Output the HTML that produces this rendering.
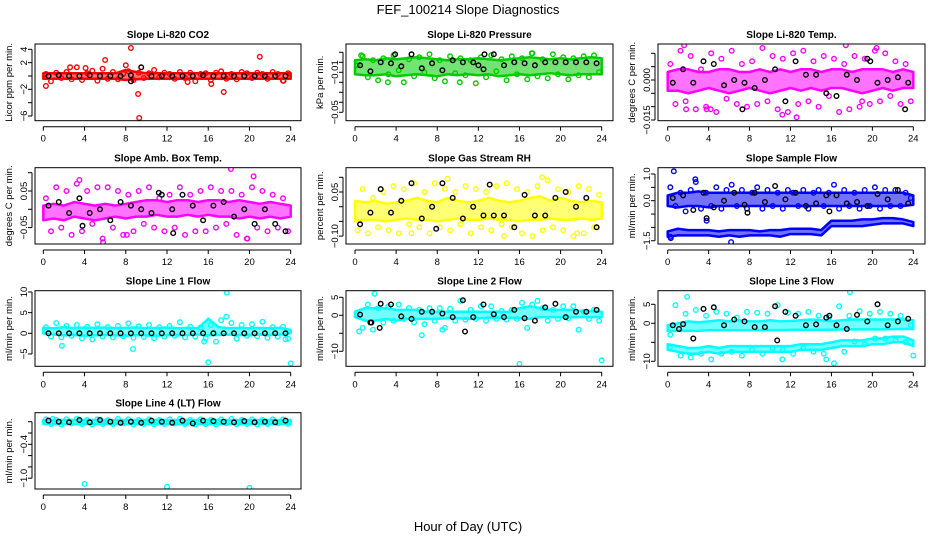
<!DOCTYPE html>
<html><head><meta charset="utf-8"><style>
html,body{margin:0;padding:0;background:#fff;}
svg{display:block;font-family:"Liberation Sans",sans-serif;}
</style></head><body>
<svg id="chart" width="936" height="540" viewBox="0 0 936 540" xmlns="http://www.w3.org/2000/svg">
<rect width="936" height="540" fill="#fff"/>
<text x="468" y="14" text-anchor="middle" font-size="13">FEF_100214  Slope Diagnostics</text>
<text x="468" y="531" text-anchor="middle" font-size="13">Hour of Day (UTC)</text>
</svg>
<script>
// ---------- data ----------
const p1Lo=[-0.4,-0.4,-0.4,-0.4,-0.4,-0.4,-0.4,-0.4,-0.6,-0.5,-0.4,-0.4,-0.4,-0.4,-0.4,-0.4,-0.4,-0.4,-0.4,-0.4,-0.4,-0.4,-0.4,-0.4,-0.4];
const p1Hi=[0.4,0.4,0.4,0.4,0.4,0.4,0.4,0.4,0.9,0.6,0.4,0.4,0.4,0.4,0.4,0.4,0.4,0.4,0.4,0.4,0.4,0.4,0.4,0.4,0.4];
const p1Scat=[0.3,-0.8,0.5,-0.3,0.6,-0.5,1.3,-0.6,0.4,0.8,-0.7,1.1,-0.4,0.6,-0.5,0.3,0.7,-0.6,0.5,-0.3,0.4,0.9,-0.2,0.5,0.3,-0.4,0.6,-0.3,0.5,-0.8,0.3,0.4,-0.6,0.5,0.7,-0.4,0.3,-0.5,0.6,0.4,-0.3,0.5,0.3,-0.4,0.6,0.3,-0.7,0.4];
const p1OutT=[0.25,2.6,4.1,6,8,8.5,9.2,9.3,17.5,21,16.3,14,23.3];
const p1OutV=[-1.5,1.3,1.2,2.4,1.6,4.2,-2.7,-6.3,-2.4,2.9,-1.2,-0.9,-0.7];
const p1Blk=[0,0.1,0,0,0.1,0,0,0,0.1,1.3,0,0,0,0,0,0.1,0,0,0,0,0,0,0,0];
const p1BlkOutT=[8.5];
const p1BlkOutV=[-0.8];

const p2Lo=[-0.012,-0.013,-0.013,-0.012,-0.014,-0.013,-0.012,-0.013,-0.014,-0.012,-0.013,-0.012,-0.013,-0.012,-0.014,-0.013,-0.012,-0.013,-0.012,-0.011,-0.012,-0.013,-0.012,-0.012,-0.012];
const p2Hi=[0.002,0.003,0.002,0.004,0.003,0.004,0.005,0.004,0.003,0.002,0.003,0.003,0.004,0.003,0.002,0.003,0.004,0.005,0.004,0.003,0.004,0.003,0.004,0.005,0.004];
const p2Scat=[-0.003,0.006,-0.015,0.002,-0.018,0.004,-0.012,0.007,-0.008,-0.02,0.003,-0.014,0.005,-0.01,0.008,-0.016,0.002,-0.019,0.006,-0.011,0.004,-0.013,0.002,-0.021,0.005,-0.015,0.007,-0.009,0.003,-0.018,0.006,-0.012,0.004,-0.017,0.009,-0.014,0.003,-0.016,0.008,-0.012,0.005,-0.017,0.004,-0.013,0.006,-0.015,0.007,-0.01];
const p2OutT=[0.6,8,16,24,17.2,10.2,3.2];
const p2OutV=[0.007,-0.074,-0.072,-0.073,0.009,-0.02,-0.02];
const p2Blk=[-0.003,-0.009,0.0,-0.001,-0.004,0.008,-0.006,-0.001,-0.008,0.002,0.0,0.0,-0.007,0.008,-0.003,0.0,-0.001,-0.003,0.0,0.0,0.0,0.0,0.0,-0.001];
const p2BlkOutT=[3.9,12.0,12.6];
const p2BlkOutV=[0.008,-0.003,0.008];

const p3Lo=[-0.004,-0.004,-0.005,-0.004,-0.003,-0.004,-0.005,-0.004,-0.003,-0.004,-0.005,-0.004,-0.003,-0.004,-0.003,-0.004,-0.003,-0.003,-0.004,-0.005,-0.004,-0.003,-0.004,-0.003,-0.003];
const p3Hi=[0.003,0.004,0.004,0.003,0.003,0.004,0.004,0.003,0.003,0.004,0.003,0.004,0.003,0.004,0.004,0.003,0.004,0.004,0.003,0.004,0.004,0.004,0.003,0.004,0.003];
const p3Scat=[0.006,-0.009,0.011,-0.008,0.009,-0.011,0.004,-0.01,0.01,-0.012,0.008,-0.007,0.011,-0.009,0.006,-0.01,0.007,-0.009,0.012,-0.008,0.009,-0.011,0.008,-0.012,0.01,-0.009,0.011,-0.008,0.007,-0.01,0.009,-0.006,0.008,-0.012,0.006,-0.011,0.009,-0.01,0.008,-0.009,0.011,-0.008,0.01,-0.006,0.007,-0.009,0.006,-0.008];
const p3OutT=[1.6,11.2,11.4,12.6,17.4,19,20.4,1.8,3.8,4.2];
const p3OutV=[0.013,-0.013,-0.017,-0.014,0.013,-0.008,0.012,-0.011,-0.011,-0.011];
const p3Blk=[-0.001,0.004,-0.001,0.007,0.006,-0.002,0.0,-0.001,-0.003,0.0,0.004,-0.008,0.007,0.002,0.002,-0.005,-0.006,0.002,0.0,0.008,-0.001,0.0,0.001,-0.001];
const p3BlkOutT=[7.3,23.2,19.8];
const p3BlkOutV=[-0.011,-0.011,0.007];

const p4Lo=[-0.03,-0.025,-0.03,-0.02,-0.025,-0.03,-0.025,-0.02,-0.025,-0.02,-0.02,-0.015,-0.02,-0.02,-0.015,-0.02,-0.015,-0.02,-0.02,-0.025,-0.02,-0.025,-0.02,-0.025,-0.02];
const p4Hi=[0.01,0.015,0.01,0.02,0.015,0.01,0.015,0.01,0.015,0.02,0.025,0.025,0.02,0.025,0.025,0.02,0.025,0.025,0.02,0.025,0.02,0.015,0.02,0.015,0.01];
const p4Scat=[0.03,-0.06,0.06,-0.05,0.05,-0.07,0.07,-0.06,0.05,-0.04,0.06,-0.08,0.06,-0.05,0.05,-0.07,0.04,-0.06,0.05,-0.04,0.06,-0.05,0.03,-0.06,0.04,-0.05,0.06,-0.07,0.04,-0.06,0.05,-0.06,0.06,-0.05,0.05,-0.04,0.05,-0.07,0.04,-0.08,0.06,-0.05,0.05,-0.06,0.04,-0.05,0.03,-0.06];
const p4OutT=[18.2,5.8,20.4,3.5,19.8,8.1];
const p4OutV=[0.11,-0.09,0.09,0.08,-0.08,-0.07];
const p4Blk=[0.01,0.02,-0.01,0.03,-0.01,0.0,-0.03,0.02,0.01,0.0,-0.01,0.04,0.0,0.04,0.01,-0.03,0.01,0.02,-0.02,0.0,-0.04,0.0,-0.04,-0.06];
const p4BlkOutT=[12.6,3.8,11.2];
const p4BlkOutV=[-0.065,-0.045,0.045];

const p5Lo=[-0.05,-0.045,-0.045,-0.05,-0.045,-0.04,-0.045,-0.045,-0.05,-0.045,-0.04,-0.045,-0.045,-0.04,-0.045,-0.045,-0.05,-0.045,-0.045,-0.04,-0.045,-0.045,-0.04,-0.045,-0.04];
const p5Hi=[0.02,0.015,0.02,0.01,0.015,0.02,0.03,0.02,0.015,0.03,0.02,0.015,0.02,0.03,0.02,0.015,0.02,0.03,0.035,0.02,0.03,0.02,0.015,0.02,0.015];
const p5Scat=[-0.08,0.06,-0.09,0.03,-0.07,0.05,-0.08,0.07,-0.09,0.06,-0.06,0.08,-0.07,0.05,-0.09,0.08,-0.07,0.06,-0.08,0.05,-0.06,0.07,-0.09,0.06,-0.07,0.05,-0.08,0.07,-0.06,0.08,-0.07,0.06,-0.09,0.05,-0.1,0.07,-0.08,0.09,-0.07,0.06,-0.08,0.05,-0.1,0.07,-0.09,0.06,-0.07,0.04];
const p5OutT=[9,18.2,14.5,5.5,21.6];
const p5OutV=[0.095,0.1,-0.1,-0.09,-0.09];
const p5Blk=[-0.06,-0.02,0.06,-0.02,0.02,0.08,-0.04,0.0,0.08,0.03,-0.04,0.0,-0.03,-0.03,-0.03,-0.07,0.04,-0.03,-0.03,0.03,0.05,0.0,0.03,-0.07];
const p5BlkOutT=[14.7,7.9,13.1];
const p5BlkOutV=[-0.14,-0.075,0.075];

const p6Lo=[-0.2,-0.25,-0.2,-0.2,-0.25,-0.2,-0.2,-0.2,-0.2,-0.2,-0.2,-0.2,-0.2,-0.2,-0.2,-0.2,-0.2,-0.2,-0.2,-0.2,-0.2,-0.2,-0.2,-0.2,-0.15];
const p6Hi=[0.2,0.3,0.3,0.35,0.3,0.3,0.3,0.3,0.3,0.3,0.3,0.3,0.3,0.3,0.3,0.3,0.3,0.3,0.3,0.3,0.3,0.3,0.3,0.3,0.2];
const p6LoB=[-1.35,-1.3,-1.3,-1.3,-1.3,-1.35,-1.3,-1.35,-1.3,-1.3,-1.3,-1.35,-1.25,-1.25,-1.25,-1.3,-0.95,-0.95,-0.95,-0.95,-0.9,-0.85,-0.85,-0.85,-0.95];
const p6HiB=[-1.15,-1.05,-1.1,-1.1,-1.1,-1.15,-1.1,-1.1,-1.1,-1.15,-1.1,-1.1,-1.05,-1.05,-1.05,-1.1,-0.75,-0.75,-0.75,-0.7,-0.7,-0.65,-0.65,-0.7,-0.8];
const p6Scat=[0.5,-0.2,0.3,-0.4,0.4,0.7,-0.3,0.3,-0.2,0.5,-0.3,0.4,0.6,-0.2,0.4,-0.3,0.3,0.5,-0.3,0.4,-0.2,0.3,-0.3,0.4,0.3,-0.2,0.4,-0.3,0.3,0.4,-0.2,0.3,0.6,-0.3,0.4,-0.2,0.3,-0.3,0.4,-0.2,0.5,-0.3,0.4,-0.2,0.4,-0.2,0.3,0.1];
const p6OutT=[0.6,0.25,0.3,6.2,2.7,3.8];
const p6OutV=[1.1,-1.35,-1.4,-1.55,0.8,-0.75];
const p6Blk=[0.1,0.2,-0.35,0.3,-0.25,0.0,0.3,-0.15,0.3,-0.05,0.55,0.05,0.3,-0.2,-0.1,0.2,0.2,-0.1,-0.05,-0.2,0.25,0.05,0.4,-0.1];
const p6BlkOutT=[3.8,7.8,15.8];
const p6BlkOutV=[-0.65,-0.45,-0.4];

const p7Lo=[0.0,-0.3,-0.5,-0.4,-0.6,-0.5,-0.4,-0.5,-0.6,-0.4,-0.5,-0.6,-0.4,-0.5,-0.4,-0.3,-0.5,-0.4,-0.3,-0.4,-0.5,-0.3,-0.4,-0.3,0.0];
const p7Hi=[1.3,1.2,1.5,1.2,1.4,1.3,1.4,1.2,1.3,1.4,1.2,1.3,1.4,1.2,1.3,1.2,3.5,1.5,1.2,1.3,1.2,1.3,1.2,1.3,0.8];
const p7Scat=[1.5,-0.8,2.5,-1.0,1.8,-0.6,2.0,-1.2,1.6,-1.5,2.2,-0.8,1.5,-1.0,1.8,-0.7,2.4,-1.1,1.7,-0.9,2.0,-1.2,1.5,-0.8,1.8,-0.6,2.7,-1.0,1.6,-0.8,1.4,-1.2,2.0,-2.0,3.2,4.0,2.5,-1.3,2.0,-0.6,2.2,-0.7,2.8,-1.1,1.5,-0.8,1.6,-1.3];
const p7OutT=[1.8,8.7,15.6,16,17.8,24,23.5];
const p7OutV=[-3.0,-3.8,-2.0,-7.0,9.8,-7.3,-1.4];
const p7Blk=[0,0,0,0,0,0,0,0,0,0,0,0,0,0,0,0,0,0,0,0,0,0,0,0];
const p7BlkOutT=[];
const p7BlkOutV=[];

const p8Lo=[-0.5,-1.5,-1.5,-1.0,-1.5,-1.0,-1.0,-1.0,-1.0,-0.8,-0.8,-1.0,-0.8,-0.7,-0.7,-0.7,-0.8,-1.0,-0.5,-0.5,-0.5,-0.5,-0.5,-0.5,-0.5];
const p8Hi=[1.0,2.0,2.0,2.0,1.5,1.5,1.5,1.0,1.0,1.0,1.0,1.0,1.0,1.0,1.0,1.0,2.0,2.5,2.0,1.5,1.5,1.5,1.2,1.2,1.0];
const p8Scat=[0.5,-3.5,3.0,-4.0,2.0,-2.0,2.5,-1.5,3.0,-1.0,2.0,-2.0,1.5,-2.5,2.0,-1.5,2.0,-3.5,1.8,-1.5,4.0,-1.2,1.5,-1.0,2.5,-1.5,2.5,-1.0,1.2,-1.2,1.5,-1.0,3.5,-3.5,3.0,4.0,2.0,-1.5,1.5,-1.0,2.5,-0.8,2.5,-4.0,1.0,-1.0,1.5,-1.5];
const p8OutT=[1.9,0.4,16,24,6.5,8.5];
const p8OutV=[6,-4.5,-13.5,-12.5,-5.5,-4.0];
const p8Blk=[0.2,-2,3.2,3,-0.3,-1,1,1,0.5,-0.5,4.2,-0.5,3,0.3,-0.5,1.5,-0.8,-1.5,2.2,3.2,-0.5,1,1,1.5];
const p8BlkOutT=[10.7,1.6,2.4];
const p8BlkOutV=[-4.5,-2,-3.5];

const p9Lo=[-2,-2,-2,-2,-1.8,-1.8,-1.8,-1.8,-1.8,-1.8,-1.8,-1.8,-1.7,-1.7,-1.7,-1.7,-1.7,-1.6,-1.6,-1.6,-1.6,-1.6,-1.5,-1.5,-1.5];
const p9Hi=[-0.5,0,0.5,0.3,0.5,0.8,0.5,0.8,0.5,0.5,0.8,0.5,0.6,0.8,1.0,0.8,0.5,0.8,1.0,1.0,1.0,1.0,1.0,1.0,0.8];
const p9LoB=[-7,-7.5,-8,-8,-7.5,-8,-7.5,-7.5,-7.5,-7.5,-7.5,-7.5,-7.5,-7.0,-7.0,-7.0,-6.5,-6.0,-6.0,-6.0,-5.5,-5.5,-5.0,-5.0,-6.0];
const p9HiB=[-5.5,-6,-6.5,-6.5,-6,-6.5,-6,-6,-6,-6,-6,-6,-6,-5.5,-5.5,-5.5,-5,-4.5,-4.5,-4.5,-4.0,-4.0,-3.5,-3.5,-4.5];
const p9Scat=[-3,4.8,-8.5,2.5,-9,3.5,-8,2,-9.5,3,-8,2.5,-7.5,1.5,-8.5,3,-7,2.8,-8,2.5,-6.5,4.8,-7,2.8,-8,2.5,-6.5,3,-7.5,2,-8,1.5,-10.5,4.5,-7.5,2,-4.8,3.2,-5.5,2.5,-4,3,-4,2.5,-4.5,2.0,-5,-0.5];
const p9OutT=[1.9,17.8,0.2,24,11.2,15.5];
const p9OutV=[7,8.2,-6.5,-8.5,-9.5,-9.5];
const p9Blk=[-0.5,-0.2,-4,3.8,4.2,-0.5,1,0.5,-1,-1,4.5,3,2,-0.5,-0.3,1.5,-0.5,-1.5,2.2,0.5,5,-0.5,0.5,1.2];
const p9BlkOutT=[10.7,15.8,1.1];
const p9BlkOutV=[-4.5,2,-1.5];

const p10Lo=[-0.04,-0.04,-0.04,-0.04,-0.04,-0.04,-0.04,-0.04,-0.04,-0.04,-0.04,-0.04,-0.04,-0.04,-0.04,-0.04,-0.04,-0.04,-0.04,-0.04,-0.04,-0.04,-0.04,-0.04,-0.04];
const p10Hi=[0.03,0.03,0.03,0.03,0.03,0.03,0.03,0.03,0.03,0.03,0.03,0.03,0.03,0.03,0.03,0.03,0.03,0.03,0.03,0.03,0.03,0.03,0.03,0.03,0.03];
const p10Scat=[0.04,-0.04,0.03,-0.05,0.04,-0.03,0.05,-0.04,0.03,-0.05,0.04,-0.04,0.03,-0.04,0.05,-0.03,0.04,-0.05,0.03,-0.04,0.04,-0.05,0.03,-0.04,0.04,-0.03,0.05,-0.04,0.03,-0.05,0.04,-0.04,0.03,-0.05,0.04,-0.03,0.05,-0.04,0.03,-0.04,0.04,-0.05,0.03,-0.04,0.04,-0.03,0.04,-0.04];
const p10OutT=[4,12,20,0.9];
const p10OutV=[-1.1,-1.15,-1.17,0.05];
const p10Blk=[0.02,0.0,-0.01,0.03,-0.01,0.03,0.0,-0.02,0.0,-0.02,0.02,0.0,-0.02,0.02,-0.03,0.02,0.01,0.0,-0.01,0.01,-0.01,0.0,-0.01,0.02];
const p10BlkOutT=[];
const p10BlkOutV=[];

const xTicks=[0,4,8,12,16,20,24];

// ---------- layout (not data) ----------
const cols=[{l:35,r:301,x0:43.3,x24:290.7},{l:346,r:613,x0:355,x24:601.7},{l:658,r:925,x0:667.7,x24:913.3}];
const rows=[{t:44,b:120.7},{t:167.7,b:244},{t:290.7,b:366.3},{t:412.7,b:489}];

const panels=[
 {id:'co2',title:'Slope Li-820 CO2',ylab:'Licor ppm per min.',c:0,r:0,col:'#ff0000',p0:76,k:6.67,
  ticks:[4,2,0,-2,-4,-6],labs:{'4':'4','2':'2','-2':'−2','-6':'−6'},
  bands:[[p1Lo,p1Hi]],scat:p1Scat,oT:p1OutT,oV:p1OutV,blk:p1Blk,bT:p1BlkOutT,bV:p1BlkOutV},
 {id:'pressure',title:'Slope Li-820 Pressure',ylab:'kPa per min.',c:1,r:0,col:'#00cd00',p0:62.3,k:1000,
  ticks:[0.01,0,-0.01,-0.02,-0.03,-0.04,-0.05],labs:{'-0.01':'−0.01','-0.05':'−0.05'},
  bands:[[p2Lo,p2Hi]],scat:p2Scat,oT:p2OutT,oV:p2OutV,blk:p2Blk,bT:p2BlkOutT,bV:p2BlkOutV},
 {id:'temp',title:'Slope Li-820 Temp.',ylab:'degrees C per min.',c:2,r:0,col:'#ff00ff',p0:80,k:2667,
  ticks:[0.01,0.005,0,-0.005,-0.01,-0.015],labs:{'0':'0.000','-0.015':'−0.015'},
  bands:[[p3Lo,p3Hi]],scat:p3Scat,oT:p3OutT,oV:p3OutV,blk:p3Blk,bT:p3BlkOutT,bV:p3BlkOutV},
 {id:'amb-box-temp',title:'Slope Amb. Box Temp.',ylab:'degrees C per min.',c:0,r:1,col:'#ff00ff',p0:209.3,k:366,
  ticks:[0.1,0.05,0,-0.05],labs:{'0.05':'0.05','-0.05':'−0.05'},
  bands:[[p4Lo,p4Hi]],scat:p4Scat,oT:p4OutT,oV:p4OutV,blk:p4Blk,bT:p4BlkOutT,bV:p4BlkOutV},
 {id:'gas-stream-rh',title:'Slope Gas Stream RH',ylab:'percent per min.',c:1,r:1,col:'#ffff00',p0:206.7,k:294,
  ticks:[0.1,0.05,0,-0.05,-0.1],labs:{'0.05':'0.05','-0.1':'−0.10'},
  bands:[[p5Lo,p5Hi]],scat:p5Scat,oT:p5OutT,oV:p5OutV,blk:p5Blk,bT:p5BlkOutT,bV:p5BlkOutV},
 {id:'sample-flow',title:'Slope Sample Flow',ylab:'ml/min per min.',c:2,r:1,col:'#0000ff',p0:200.7,k:26.7,
  ticks:[1,0.5,0,-0.5,-1,-1.5],labs:{'1':'1.0','0':'0.0','-1.5':'−1.5'},
  bands:[[p6Lo,p6Hi],[p6LoB,p6HiB]],scat:p6Scat,oT:p6OutT,oV:p6OutV,blk:p6Blk,bT:p6BlkOutT,bV:p6BlkOutV},
 {id:'line1-flow',title:'Slope Line 1 Flow',ylab:'ml/min per min.',c:0,r:2,col:'#00ffff',p0:333.3,k:4.13,
  ticks:[10,5,0,-5],labs:{'10':'10','5':'5','0':'0','-5':'−5'},
  bands:[[p7Lo,p7Hi]],scat:p7Scat,oT:p7OutT,oV:p7OutV,blk:p7Blk,bT:p7BlkOutT,bV:p7BlkOutV},
 {id:'line2-flow',title:'Slope Line 2 Flow',ylab:'ml/min per min.',c:1,r:2,col:'#00ffff',p0:315.3,k:3.6,
  ticks:[5,0,-5,-10],labs:{'5':'5','0':'0','-10':'−10'},
  bands:[[p8Lo,p8Hi]],scat:p8Scat,oT:p8OutT,oV:p8OutV,blk:p8Blk,bT:p8BlkOutT,bV:p8BlkOutV},
 {id:'line3-flow',title:'Slope Line 3 Flow',ylab:'ml/min per min.',c:2,r:2,col:'#00ffff',p0:323.3,k:3.8,
  ticks:[5,0,-5,-10],labs:{'5':'5','0':'0','-10':'−10'},
  bands:[[p9Lo,p9Hi],[p9LoB,p9HiB]],scat:p9Scat,oT:p9OutT,oV:p9OutV,blk:p9Blk,bT:p9BlkOutT,bV:p9BlkOutV},
 {id:'line4-flow',title:'Slope Line 4 (LT) Flow',ylab:'ml/min per min.',c:0,r:3,col:'#00ffff',p0:421.7,k:56.5,
  ticks:[0,-0.2,-0.4,-0.6,-0.8,-1.0],labs:{'-0.4':'−0.4','-1':'−1.0'},
  bands:[[p10Lo,p10Hi]],scat:p10Scat,oT:p10OutT,oV:p10OutV,blk:p10Blk,bT:p10BlkOutT,bV:p10BlkOutV}
];

const svg=document.getElementById('chart');
const NS='http://www.w3.org/2000/svg';
function mk(tag,attrs,parent){const e=document.createElementNS(NS,tag);for(const k in attrs)e.setAttribute(k,attrs[k]);(parent||svg).appendChild(e);return e;}

panels.forEach(p=>{
  const C=cols[p.c],R=rows[p.r];
  const xs=t=>C.x0+(C.x24-C.x0)*t/24;
  const ys=v=>p.p0-v*p.k;
  const g=mk('g',{});
  
  
  const clipId='clip-'+p.id;
  const cp=mk('clipPath',{id:clipId},g);
  mk('rect',{x:C.l,y:R.t,width:C.r-C.l,height:R.b-R.t},cp);
  const plot=mk('g',{'clip-path':'url(#'+clipId+')'},g);
  
  
  p.bands.forEach(([lo,hi])=>{
    let d='';
    hi.forEach((v,i)=>{d+=(i?'L':'M')+xs(i).toFixed(1)+','+ys(v).toFixed(1);});
    for(let i=lo.length-1;i>=0;i--) d+='L'+xs(i).toFixed(1)+','+ys(lo[i]).toFixed(1);
    const b=mk('path',{d:d+'Z',fill:p.col,'fill-opacity':0.55,stroke:p.col,'stroke-width':2.5,'stroke-linejoin':'round'},plot);
    
    
  });
  const dot=(t,v,col,nm)=>{
    const c=mk('circle',{cx:xs(t).toFixed(1),cy:ys(v).toFixed(1),r:2.3,fill:'none',stroke:col,'stroke-width':1.4},plot);
    
    
  };
  p.scat.forEach((v,i)=>dot((i+0.5)/2,v,p.col,'data-point'));
  p.oT.forEach((t,i)=>dot(t,p.oV[i],p.col,'outlier-point'));
  p.blk.forEach((v,i)=>dot(i+0.5,v,'#000','hourly-point'));
  p.bT.forEach((t,i)=>dot(t,p.bV[i],'#000','hourly-point'));
  const box=mk('rect',{x:C.l,y:R.t,width:C.r-C.l,height:R.b-R.t,fill:'none',stroke:'#000','stroke-width':1},g);
  
  
  const tt=mk('text',{x:(C.l+C.r)/2,y:R.t-6,'text-anchor':'middle','font-size':10,'font-weight':'bold'},g);
  tt.textContent=p.title;
  
  
  const xa=mk('line',{x1:xs(0),x2:xs(24),y1:R.b+6,y2:R.b+6,stroke:'#000'},g);
  
  
  xTicks.forEach(t=>{
    mk('line',{x1:xs(t),x2:xs(t),y1:R.b+6,y2:R.b+10,stroke:'#000'},g);
    const l=mk('text',{x:xs(t),y:R.b+21,'text-anchor':'middle','font-size':9.5},g);
    l.textContent=t;
    
    
  });
  const yTop=ys(p.ticks[0]),yBot=ys(p.ticks[p.ticks.length-1]);
  const ya=mk('line',{x1:C.l-3,x2:C.l-3,y1:yTop,y2:yBot,stroke:'#000'},g);
  
  
  p.ticks.forEach(v=>{
    const y=ys(v);
    mk('line',{x1:C.l-7,x2:C.l-3,y1:y,y2:y,stroke:'#000'},g);
    const lab=p.labs[String(v)];
    if(lab){
      const l=mk('text',{x:0,y:0,'text-anchor':'middle','font-size':9.5,transform:'translate('+(C.l-8)+','+y.toFixed(1)+') rotate(-90)'},g);
      l.textContent=lab;
      
      
    }
  });
  const yl=mk('text',{x:0,y:0,'text-anchor':'middle','font-size':9.5,transform:'translate('+(C.l-23)+','+((R.t+R.b)/2).toFixed(1)+') rotate(-90)'},g);
  yl.textContent=p.ylab;
  
  
});
</script>
</body></html>
